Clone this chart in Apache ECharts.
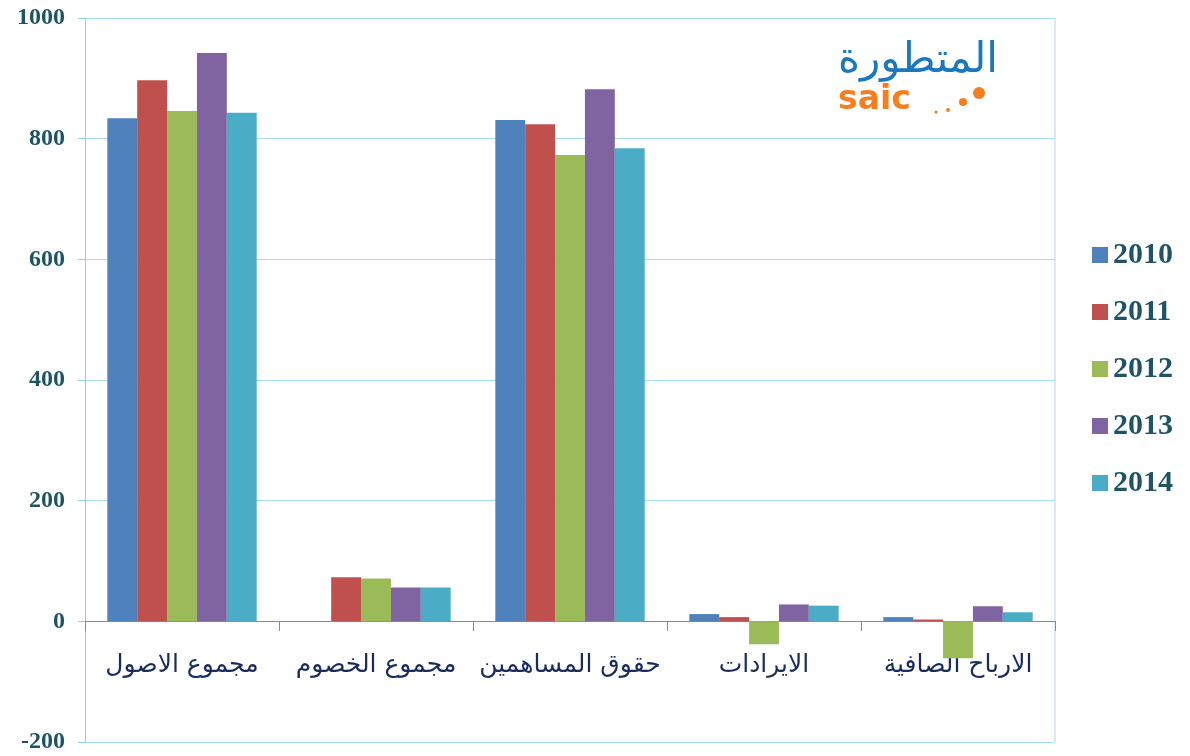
<!DOCTYPE html>
<html>
<head>
<meta charset="utf-8">
<script src="https://cdn.jsdelivr.net/npm/echarts@6/dist/echarts.min.js"></script>
<style>
html, body { margin: 0; padding: 0; background: #fff; }
#main { width: 1190px; height: 756px; }
</style>
</head>
<body>
<div id="main"></div>
<script>
var categories = ['مجموع الاصول', 'مجموع الخصوم', 'حقوق المساهمين', 'الايرادات', 'الارباح الصافية'];
var years = ['2010', '2011', '2012', '2013', '2014'];
var v2010 = [834, 0, 831, 12, 7];
var v2011 = [897, 73, 824, 7, 3];
var v2012 = [846, 71, 773, -38, -61];
var v2013 = [942, 56, 882, 28, 25];
var v2014 = [843, 56, 784, 26, 15];
var colors = ['#4f81bd', '#c0504d', '#9bbb59', '#8064a2', '#4bacc6'];

var myChart = echarts.init(document.getElementById('main'));

var allValues = [v2010, v2011, v2012, v2013, v2014];
var series = [];
years.forEach(function (y, i) {
    series.push({
        name: y,
        type: 'bar',
        barGap: '0%',
        barCategoryGap: '23%',
        itemStyle: { color: colors[i] },
        data: allValues[i]
    });
});

var option = {
    animation: false,
    color: colors,
    grid: { left: 85, right: 135, top: 18, bottom: 14, outerBoundsMode: 'none', containLabel: false },
    legend: {
        orient: 'vertical',
        left: 1087,
        top: 235,
        itemWidth: 16,
        itemHeight: 16,
        itemGap: 27,
        icon: 'rect',
        textStyle: {
            color: '#1f5465',
            fontFamily: 'Liberation Serif',
            fontWeight: 'bold',
            fontSize: 30
        },
        data: years
    },
    xAxis: {
        type: 'category',
        data: categories,
        position: 'bottom',
        // the axis sits on the zero line: move it up from the bottom edge of the grid
        offset: -121,
        axisLine: { onZero: false, lineStyle: { color: '#8c8c8c', width: 1 } },
        axisTick: { show: true, interval: 0, length: 10, lineStyle: { color: '#8c8c8c' } },
        axisLabel: {
            interval: 0,
            margin: 32,
            color: '#1a2c5b',
            fontFamily: 'DejaVu Sans',
            fontSize: 25
        },
        splitLine: { show: false }
    },
    yAxis: {
        type: 'value',
        min: -200,
        max: 1000,
        interval: 200,
        axisLine: { show: true, lineStyle: { color: '#8fd0e0' } },
        axisTick: { show: true, length: 7, lineStyle: { color: '#8fd0e0' } },
        axisLabel: {
            margin: 20,
            color: '#1f5465',
            fontFamily: 'Liberation Serif',
            fontWeight: 'bold',
            fontSize: 24,
            formatter: function (v) { return String(v); }
        },
        splitLine: { show: true, lineStyle: { color: '#a8dce8', width: 1 } }
    },
    graphic: [
        { type: 'line', shape: { x1: 1055, y1: 18, x2: 1055, y2: 742 }, style: { stroke: '#a8dce8', lineWidth: 1 } },
        { type: 'text', left: 838, top: 40, style: { text: 'المتطورة', fill: '#1b78bf', font: '42px "DejaVu Sans"' } },
        { type: 'text', left: 838, top: 84, style: { text: 'saic', fill: '#f47e20', font: 'bold 33px "DejaVu Sans"' } },
        { type: 'circle', shape: { cx: 936, cy: 112, r: 1.5 }, style: { fill: '#f47e20' } },
        { type: 'circle', shape: { cx: 948, cy: 110, r: 2 }, style: { fill: '#f47e20' } },
        { type: 'circle', shape: { cx: 963, cy: 102, r: 4 }, style: { fill: '#f47e20' } },
        { type: 'circle', shape: { cx: 979, cy: 93, r: 6 }, style: { fill: '#f47e20' } }
    ],
    series: series
};

myChart.setOption(option);
</script>
</body>
</html>
